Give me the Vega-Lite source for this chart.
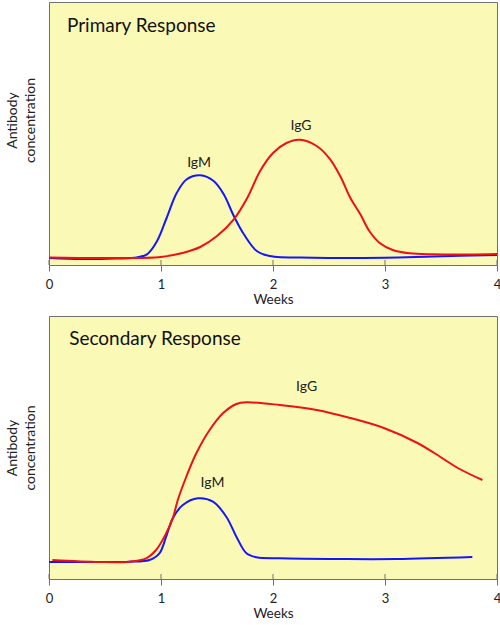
{
  "$schema": "https://vega.github.io/schema/vega-lite/v6.json",
  "padding": {"left": 4, "top": 1, "right": 4, "bottom": 0},
  "background": "white",
  "spacing": 9,
  "config": {
    "font": "Lato",
    "view": {"fill": "#fafab6", "stroke": "#707070", "strokeWidth": 1}
  },
  "datasets": {
    "curves": [
      {"panel": "Primary", "series": "IgM", "week": 0, "conc": 7},
      {"panel": "Primary", "series": "IgM", "week": 0.3, "conc": 6},
      {"panel": "Primary", "series": "IgM", "week": 0.6, "conc": 6.5},
      {"panel": "Primary", "series": "IgM", "week": 0.76, "conc": 7.3},
      {"panel": "Primary", "series": "IgM", "week": 0.875, "conc": 10.7},
      {"panel": "Primary", "series": "IgM", "week": 0.965, "conc": 24},
      {"panel": "Primary", "series": "IgM", "week": 1.05, "conc": 47},
      {"panel": "Primary", "series": "IgM", "week": 1.14, "conc": 72},
      {"panel": "Primary", "series": "IgM", "week": 1.23, "conc": 85.7},
      {"panel": "Primary", "series": "IgM", "week": 1.35, "conc": 89.7},
      {"panel": "Primary", "series": "IgM", "week": 1.47, "conc": 84},
      {"panel": "Primary", "series": "IgM", "week": 1.56, "conc": 70.7},
      {"panel": "Primary", "series": "IgM", "week": 1.65, "conc": 49},
      {"panel": "Primary", "series": "IgM", "week": 1.74, "conc": 30.7},
      {"panel": "Primary", "series": "IgM", "week": 1.855, "conc": 14},
      {"panel": "Primary", "series": "IgM", "week": 1.97, "conc": 9},
      {"panel": "Primary", "series": "IgM", "week": 2.36, "conc": 7.3},
      {"panel": "Primary", "series": "IgM", "week": 3.0, "conc": 7.3},
      {"panel": "Primary", "series": "IgM", "week": 3.43, "conc": 8.5},
      {"panel": "Primary", "series": "IgM", "week": 4.0, "conc": 10},
      {"panel": "Primary", "series": "IgG", "week": 0, "conc": 7.5},
      {"panel": "Primary", "series": "IgG", "week": 0.5, "conc": 7},
      {"panel": "Primary", "series": "IgG", "week": 1.0, "conc": 8},
      {"panel": "Primary", "series": "IgG", "week": 1.2, "conc": 12.3},
      {"panel": "Primary", "series": "IgG", "week": 1.35, "conc": 18},
      {"panel": "Primary", "series": "IgG", "week": 1.5, "conc": 29},
      {"panel": "Primary", "series": "IgG", "week": 1.65, "conc": 45.7},
      {"panel": "Primary", "series": "IgG", "week": 1.77, "conc": 67},
      {"panel": "Primary", "series": "IgG", "week": 1.885, "conc": 94},
      {"panel": "Primary", "series": "IgG", "week": 2.0, "conc": 112},
      {"panel": "Primary", "series": "IgG", "week": 2.12, "conc": 122},
      {"panel": "Primary", "series": "IgG", "week": 2.24, "conc": 125.3},
      {"panel": "Primary", "series": "IgG", "week": 2.39, "conc": 119},
      {"panel": "Primary", "series": "IgG", "week": 2.51, "conc": 105.7},
      {"panel": "Primary", "series": "IgG", "week": 2.6, "conc": 89},
      {"panel": "Primary", "series": "IgG", "week": 2.69, "conc": 67.3},
      {"panel": "Primary", "series": "IgG", "week": 2.78, "conc": 50.7},
      {"panel": "Primary", "series": "IgG", "week": 2.86, "conc": 34},
      {"panel": "Primary", "series": "IgG", "week": 2.95, "conc": 22.3},
      {"panel": "Primary", "series": "IgG", "week": 3.07, "conc": 15},
      {"panel": "Primary", "series": "IgG", "week": 3.22, "conc": 11.7},
      {"panel": "Primary", "series": "IgG", "week": 3.43, "conc": 10.7},
      {"panel": "Primary", "series": "IgG", "week": 3.75, "conc": 10.5},
      {"panel": "Primary", "series": "IgG", "week": 4.0, "conc": 11},
      {"panel": "Secondary", "series": "IgM", "week": 0, "conc": 17},
      {"panel": "Secondary", "series": "IgM", "week": 0.45, "conc": 17},
      {"panel": "Secondary", "series": "IgM", "week": 0.717, "conc": 17.3},
      {"panel": "Secondary", "series": "IgM", "week": 0.896, "conc": 19},
      {"panel": "Secondary", "series": "IgM", "week": 0.986, "conc": 25.7},
      {"panel": "Secondary", "series": "IgM", "week": 1.046, "conc": 42.3},
      {"panel": "Secondary", "series": "IgM", "week": 1.105, "conc": 60.7},
      {"panel": "Secondary", "series": "IgM", "week": 1.195, "conc": 74},
      {"panel": "Secondary", "series": "IgM", "week": 1.33, "conc": 80.7},
      {"panel": "Secondary", "series": "IgM", "week": 1.464, "conc": 77.3},
      {"panel": "Secondary", "series": "IgM", "week": 1.583, "conc": 62.3},
      {"panel": "Secondary", "series": "IgM", "week": 1.673, "conc": 42.3},
      {"panel": "Secondary", "series": "IgM", "week": 1.763, "conc": 25.7},
      {"panel": "Secondary", "series": "IgM", "week": 1.852, "conc": 21.7},
      {"panel": "Secondary", "series": "IgM", "week": 2.06, "conc": 20.7},
      {"panel": "Secondary", "series": "IgM", "week": 2.6, "conc": 20},
      {"panel": "Secondary", "series": "IgM", "week": 3.1, "conc": 20},
      {"panel": "Secondary", "series": "IgM", "week": 3.78, "conc": 22},
      {"panel": "Secondary", "series": "IgG", "week": 0.03, "conc": 19},
      {"panel": "Secondary", "series": "IgG", "week": 0.45, "conc": 17},
      {"panel": "Secondary", "series": "IgG", "week": 0.717, "conc": 17.3},
      {"panel": "Secondary", "series": "IgG", "week": 0.867, "conc": 20.7},
      {"panel": "Secondary", "series": "IgG", "week": 0.956, "conc": 29},
      {"panel": "Secondary", "series": "IgG", "week": 1.046, "conc": 45.7},
      {"panel": "Secondary", "series": "IgG", "week": 1.105, "conc": 60.7},
      {"panel": "Secondary", "series": "IgG", "week": 1.15, "conc": 79},
      {"panel": "Secondary", "series": "IgG", "week": 1.225, "conc": 102},
      {"panel": "Secondary", "series": "IgG", "week": 1.315, "conc": 125.7},
      {"panel": "Secondary", "series": "IgG", "week": 1.434, "conc": 149},
      {"panel": "Secondary", "series": "IgG", "week": 1.553, "conc": 165.7},
      {"panel": "Secondary", "series": "IgG", "week": 1.673, "conc": 175},
      {"panel": "Secondary", "series": "IgG", "week": 1.763, "conc": 176.7},
      {"panel": "Secondary", "series": "IgG", "week": 2.06, "conc": 174},
      {"panel": "Secondary", "series": "IgG", "week": 2.39, "conc": 169},
      {"panel": "Secondary", "series": "IgG", "week": 2.69, "conc": 161},
      {"panel": "Secondary", "series": "IgG", "week": 2.99, "conc": 151},
      {"panel": "Secondary", "series": "IgG", "week": 3.29, "conc": 136},
      {"panel": "Secondary", "series": "IgG", "week": 3.44, "conc": 126},
      {"panel": "Secondary", "series": "IgG", "week": 3.65, "conc": 111},
      {"panel": "Secondary", "series": "IgG", "week": 3.87, "conc": 99}
    ],
    "labels": [
      {"panel": "Primary", "week": 1.34, "conc": 102, "text": "IgM"},
      {"panel": "Primary", "week": 2.25, "conc": 139, "text": "IgG"},
      {"panel": "Secondary", "week": 1.46, "conc": 96, "text": "IgM"},
      {"panel": "Secondary", "week": 2.3, "conc": 192, "text": "IgG"}
    ],
    "titles": [
      {"panel": "Primary", "week": 0.16, "conc": 239, "text": "Primary Response"},
      {"panel": "Secondary", "week": 0.18, "conc": 240, "text": "Secondary Response"}
    ],
    "ticks": [
      {"week": 0}, {"week": 1}, {"week": 2}, {"week": 3}, {"week": 4}
    ]
  },
  "vconcat": [
    {
      "width": 448,
      "height": 263,
      "layer": [
        {
          "data": {"name": "curves"},
          "transform": [{"filter": "datum.panel === 'Primary'"}],
          "mark": {"type": "line", "interpolate": "catmull-rom", "strokeWidth": 2},
          "encoding": {
            "x": {"field": "week", "type": "quantitative", "title": "Weeks",
                  "scale": {"domain": [0, 4], "nice": false},
                  "axis": {"values": [0, 1, 2, 3, 4], "format": "d", "grid": false,
                           "domainColor": "#707070", "tickColor": "#707070", "tickSize": 6,
                           "labelFontSize": 13, "labelColor": "#222222", "labelPadding": 7, "labelFlush": false,
                           "titleFontSize": 13.5, "titleFontWeight": "normal", "titleColor": "#222222", "titlePadding": 1}},
            "y": {"field": "conc", "type": "quantitative", "title": ["Antibody", "concentration"],
                  "scale": {"domain": [0, 263], "nice": false},
                  "axis": {"domain": false, "ticks": false, "labels": false, "grid": false,
                           "titleFontSize": 14, "titleFontWeight": "normal", "titleColor": "#222222",
                           "titleLineHeight": 18, "titlePadding": 12, "titleY": 118}},
            "color": {"field": "series", "type": "nominal", "legend": null,
                      "scale": {"domain": ["IgM", "IgG"], "range": ["#1515ff", "#ee1111"]}}
          }
        },
        {
          "data": {"name": "ticks"},
          "mark": {"type": "rule", "color": "#707070", "strokeWidth": 1},
          "encoding": {
            "x": {"field": "week", "type": "quantitative"},
            "y": {"datum": 0},
            "y2": {"datum": 5}
          }
        },
        {
          "data": {"name": "labels"},
          "transform": [{"filter": "datum.panel === 'Primary'"}],
          "mark": {"type": "text", "fontSize": 14, "color": "#222222", "align": "center", "baseline": "middle"},
          "encoding": {
            "x": {"field": "week", "type": "quantitative"},
            "y": {"field": "conc", "type": "quantitative"},
            "text": {"field": "text"}
          }
        },
        {
          "data": {"name": "titles"},
          "transform": [{"filter": "datum.panel === 'Primary'"}],
          "mark": {"type": "text", "fontSize": 19, "color": "#111111", "align": "left", "baseline": "middle"},
          "encoding": {
            "x": {"field": "week", "type": "quantitative"},
            "y": {"field": "conc", "type": "quantitative"},
            "text": {"field": "text"}
          }
        }
      ]
    },
    {
      "width": 448,
      "height": 263,
      "layer": [
        {
          "data": {"name": "curves"},
          "transform": [{"filter": "datum.panel === 'Secondary'"}],
          "mark": {"type": "line", "interpolate": "catmull-rom", "strokeWidth": 2},
          "encoding": {
            "x": {"field": "week", "type": "quantitative", "title": "Weeks",
                  "scale": {"domain": [0, 4], "nice": false},
                  "axis": {"values": [0, 1, 2, 3, 4], "format": "d", "grid": false,
                           "domainColor": "#707070", "tickColor": "#707070", "tickSize": 6,
                           "labelFontSize": 13, "labelColor": "#222222", "labelPadding": 7, "labelFlush": false,
                           "titleFontSize": 13.5, "titleFontWeight": "normal", "titleColor": "#222222", "titlePadding": 1}},
            "y": {"field": "conc", "type": "quantitative", "title": ["Antibody", "concentration"],
                  "scale": {"domain": [0, 263], "nice": false},
                  "axis": {"domain": false, "ticks": false, "labels": false, "grid": false,
                           "titleFontSize": 14, "titleFontWeight": "normal", "titleColor": "#222222",
                           "titleLineHeight": 18, "titlePadding": 12}},
            "color": {"field": "series", "type": "nominal", "legend": null,
                      "scale": {"domain": ["IgM", "IgG"], "range": ["#1515ff", "#ee1111"]}}
          }
        },
        {
          "data": {"name": "ticks"},
          "mark": {"type": "rule", "color": "#707070", "strokeWidth": 1},
          "encoding": {
            "x": {"field": "week", "type": "quantitative"},
            "y": {"datum": 0},
            "y2": {"datum": 5}
          }
        },
        {
          "data": {"name": "labels"},
          "transform": [{"filter": "datum.panel === 'Secondary'"}],
          "mark": {"type": "text", "fontSize": 14, "color": "#222222", "align": "center", "baseline": "middle"},
          "encoding": {
            "x": {"field": "week", "type": "quantitative"},
            "y": {"field": "conc", "type": "quantitative"},
            "text": {"field": "text"}
          }
        },
        {
          "data": {"name": "titles"},
          "transform": [{"filter": "datum.panel === 'Secondary'"}],
          "mark": {"type": "text", "fontSize": 19, "color": "#111111", "align": "left", "baseline": "middle"},
          "encoding": {
            "x": {"field": "week", "type": "quantitative"},
            "y": {"field": "conc", "type": "quantitative"},
            "text": {"field": "text"}
          }
        }
      ]
    }
  ]
}
